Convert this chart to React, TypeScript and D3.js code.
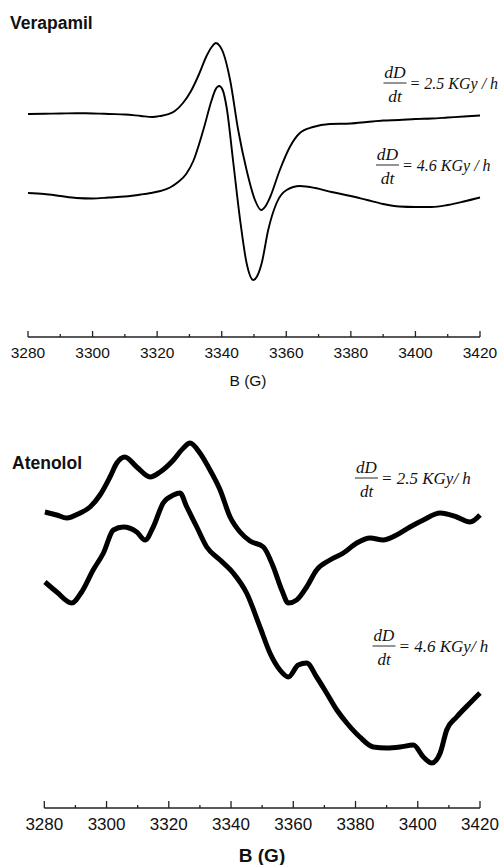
import React from "react";
import * as d3 from "d3";

// Magnetic field axis ticks (G)
const majorTicks = [3280, 3300, 3320, 3340, 3360, 3380, 3400, 3420];
const minorTicks = [3290, 3310, 3330, 3350, 3370, 3390, 3410];

// Verapamil, dD/dt = 2.5 KGy/h  [B (G), signal (a.u.)]
const vera25: [number, number][] = [
  [3280, 223], [3285, 223.3], [3290, 223.5], [3295, 223.8], [3298, 223.7], [3302, 223.4],
  [3305, 223], [3310, 222.5], [3315, 221], [3318.5, 220], [3321, 221], [3323.5, 222.8],
  [3325.5, 226], [3328, 234], [3330.5, 246], [3333, 263], [3335.3, 281], [3336.9, 290],
  [3338.2, 294], [3339.4, 291], [3340.5, 284], [3342.6, 257], [3345.1, 207], [3347.7, 167],
  [3350.3, 137], [3352.2, 127], [3353.6, 131], [3355, 140], [3358, 167], [3361.1, 190],
  [3364.2, 204], [3368.3, 210], [3373.5, 213], [3380, 213.5], [3385, 215], [3390, 216.5],
  [3395, 217], [3400, 218], [3405, 218.5], [3410, 219.5], [3415, 220.5], [3420, 221.5],
];

// Verapamil, dD/dt = 4.6 KGy/h
const vera46: [number, number][] = [
  [3280, 144], [3285, 143], [3290, 141], [3295, 139], [3300, 138.5], [3305, 139.5],
  [3310, 140.5], [3315, 142.5], [3318, 144], [3321, 146], [3324, 149.5], [3326.5, 155],
  [3329, 163], [3331.2, 176], [3334.3, 207], [3336.9, 237], [3338, 247], [3339.2, 251],
  [3340.3, 247], [3341.5, 230], [3343.6, 174], [3345.7, 117], [3347.7, 74], [3349.8, 57],
  [3351, 61], [3352.4, 74], [3354.4, 107], [3357, 134], [3360.1, 147], [3364.2, 151],
  [3369, 149], [3374, 145], [3380, 141], [3385, 137], [3390, 133], [3395, 130.5],
  [3400, 130], [3405, 130], [3410, 132], [3415, 135.5], [3420, 139.5],
];

// Atenolol, dD/dt = 2.5 KGy/h
const aten25: [number, number][] = [
  [3280.2, 296], [3284, 293], [3287.2, 290], [3291.5, 295], [3294.7, 301], [3297.9, 313],
  [3301.1, 331], [3303.3, 345], [3305.9, 351], [3309.7, 341], [3314, 331], [3317.2, 336],
  [3321.5, 348], [3324.7, 360], [3326.8, 365], [3330, 355], [3332.7, 341], [3336.5, 318],
  [3339.7, 291], [3342.9, 276], [3346.1, 267], [3350.4, 261], [3353.6, 241], [3356.3, 218],
  [3358.4, 205], [3361.1, 208], [3364.3, 221], [3367.5, 238], [3371.8, 248], [3376.1, 255],
  [3380.4, 265], [3384.7, 270], [3388.9, 268], [3393.2, 273], [3397.5, 281], [3401.8, 288],
  [3407.2, 295], [3412.5, 291], [3416.8, 286], [3420, 293],
];

// Atenolol, dD/dt = 4.6 KGy/h
const aten46: [number, number][] = [
  [3280.2, 226], [3284, 216], [3288.8, 205], [3292, 216], [3295.7, 238], [3299, 255],
  [3302.2, 278], [3305.4, 281], [3309.7, 276], [3312.4, 268], [3315, 281], [3318.2, 305],
  [3321.5, 313], [3323.6, 315], [3325.8, 301], [3329, 281], [3332.2, 261], [3336.5, 248],
  [3340.7, 235], [3345, 215], [3349.3, 181], [3352.5, 155], [3355.7, 138], [3358.4, 131],
  [3361.6, 143], [3364.3, 145], [3367.5, 131], [3370.7, 115], [3374, 98], [3377.2, 85],
  [3381.4, 71], [3385.7, 61], [3390, 60], [3394.3, 61], [3398.6, 63], [3401.8, 51],
  [3404.5, 45], [3407.2, 55], [3409.3, 78], [3412.5, 91], [3416.8, 105], [3420, 115],
];

const SANS = "'Liberation Sans', Arial, Helvetica, sans-serif";
const SERIF = "'Liberation Serif', 'Times New Roman', serif";

type Scale = d3.ScaleLinear<number, number>;

function Axis({ x, y, major, minor, font, labelDy, title, titleX, titleY, titleFont, titleBold }: {
  x: Scale; y: number; major: number; minor: number; font: number; labelDy: number;
  title: string; titleX: number; titleY: number; titleFont: number; titleBold: boolean;
}) {
  const [x0, x1] = x.range();
  return (
    <g>
      <line x1={x0} x2={x1} y1={y} y2={y} stroke="#222" strokeWidth={1.3} />
      {majorTicks.map((t) => (
        <g key={"M" + t}>
          <line x1={x(t)} x2={x(t)} y1={y} y2={y - major} stroke="#222" strokeWidth={1.3} />
          <text x={x(t)} y={y + labelDy} textAnchor="middle" fontFamily={SANS} fontSize={font} fill="#111">
            {t}
          </text>
        </g>
      ))}
      {minorTicks.map((t) => (
        <line key={"m" + t} x1={x(t)} x2={x(t)} y1={y} y2={y - minor} stroke="#222" strokeWidth={1.3} />
      ))}
      <text x={titleX} y={titleY} textAnchor="middle" fontFamily={SANS} fontSize={titleFont}
        fontWeight={titleBold ? "bold" : "normal"} fill="#111">
        {title}
      </text>
    </g>
  );
}

function Rate({ cx, barY, label, font, textFont }: { cx: number; barY: number; label: string; font: number; textFont: number }) {
  const half = 11.5;
  return (
    <g fontFamily={SERIF} fontStyle="italic" fill="#111">
      <text x={cx} y={barY - 5} textAnchor="middle" fontSize={font}>dD</text>
      <line x1={cx - half} x2={cx + half} y1={barY} y2={barY} stroke="#111" strokeWidth={0.9} />
      <text x={cx} y={barY + 19} textAnchor="middle" fontSize={font}>dt</text>
      <text x={cx + half + 3} y={barY + 6} fontSize={textFont} xmlSpace="preserve">
        {label}
      </text>
    </g>
  );
}

export default function App() {
  const xTop = d3.scaleLinear().domain([3280, 3420]).range([28, 480]);
  const yTop = d3.scaleLinear().domain([0, 300]).range([337, 37]);
  const xBot = d3.scaleLinear().domain([3280, 3420]).range([44.3, 480]);
  const yBot = d3.scaleLinear().domain([0, 400]).range([808, 408]);

  const lineTop = d3.line<[number, number]>()
    .x((d) => xTop(d[0])).y((d) => yTop(d[1])).curve(d3.curveMonotoneX);
  const lineBot = d3.line<[number, number]>()
    .x((d) => xBot(d[0])).y((d) => yBot(d[1])).curve(d3.curveMonotoneX);

  return (
    <svg width={501} height={865} style={{ position: "absolute", left: 0, top: 0, background: "#fff" }}>
      <rect width={501} height={865} fill="#fff" />
      {/* Verapamil panel */}
      <text x={10} y={29} fontFamily={SANS} fontWeight="bold" fontSize={17.5} fill="#111">Verapamil</text>
      <path d={lineTop(vera25) || ""} fill="none" stroke="#000" strokeWidth={1.9} strokeLinejoin="round" />
      <path d={lineTop(vera46) || ""} fill="none" stroke="#000" strokeWidth={1.9} strokeLinejoin="round" />
      <Rate cx={395} barY={83} label="= 2.5 KGy / h" font={17.5} textFont={16} />
      <Rate cx={387.5} barY={165} label="= 4.6 KGy / h" font={17.5} textFont={16} />
      <Axis x={xTop} y={337} major={6} minor={3} font={15.5} labelDy={21} title="B (G)" titleX={248} titleY={386}
        titleFont={15.5} titleBold={false} />

      {/* Atenolol panel */}
      <text x={12} y={469} fontFamily={SANS} fontWeight="bold" fontSize={17.5} fill="#111">Atenolol</text>
      <path d={lineBot(aten25) || ""} fill="none" stroke="#000" strokeWidth={5} strokeLinejoin="round" />
      <path d={lineBot(aten46) || ""} fill="none" stroke="#000" strokeWidth={5} strokeLinejoin="round" />
      <Rate cx={366.5} barY={478} label="= 2.5 KGy/ h" font={17} textFont={17} />
      <Rate cx={384} barY={646} label="= 4.6 KGy/ h" font={17} textFont={17} />
      <Axis x={xBot} y={808} major={7} minor={3} font={17} labelDy={22} title="B (G)" titleX={262} titleY={862}
        titleFont={19} titleBold={true} />
    </svg>
  );
}
